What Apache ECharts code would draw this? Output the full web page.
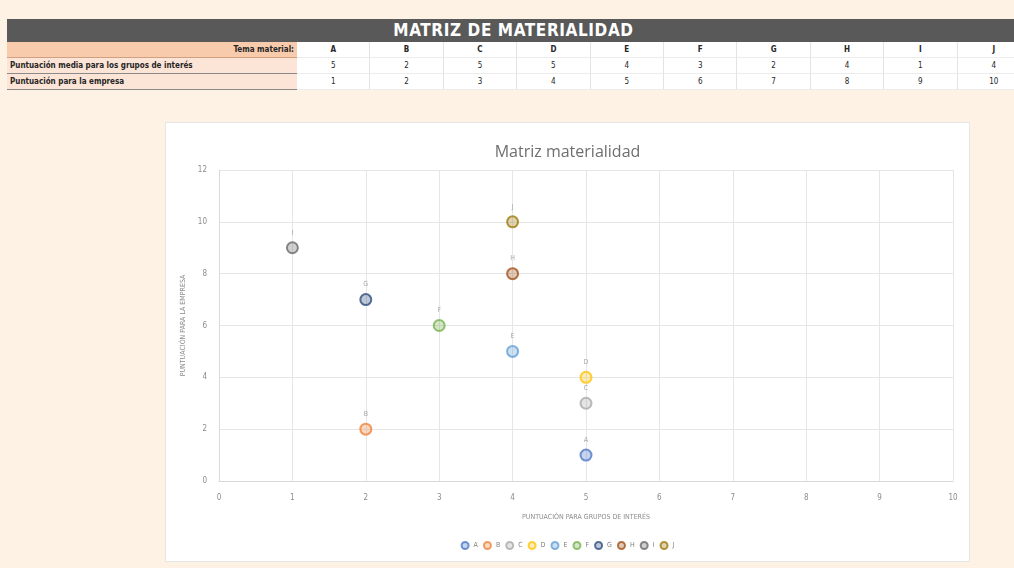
<!DOCTYPE html>
<html>
<head>
<meta charset="utf-8">
<script src="https://cdn.jsdelivr.net/npm/echarts@6/dist/echarts.min.js"></script>
<style>
  html, body { margin: 0; padding: 0; width: 1014px; height: 568px; background: #fdf2e4; overflow: hidden; }
  body { position: relative; font-family: "Liberation Sans Narrow", "DejaVu Sans Condensed", "Open Sans", sans-serif; }
  #banner { position: absolute; left: 7px; top: 19px; width: 1007px; height: 23px; background: #595959;
    color: #fff; font-weight: bold; font-size: 17px; line-height: 23px; text-align: center; letter-spacing: 0.6px; }
  #banner span { position: relative; left: 3px; }
  .cell { position: absolute; height: 16px; line-height: 16px; font-size: 8px; font-weight: bold; color: #262626; box-sizing: border-box; }
  .lab { left: 7px; width: 290px; background: #fce4d6; padding: 0 3px; border-bottom: 1px solid #8a8a8a; }
  .lab.head { background: #f8cbad; text-align: right; border-bottom: 1px solid #d0a080; }
  .val { text-align: center; width: 73.4px; background: #fff; border-right: 1px solid #e3e3e3; border-bottom: 1px solid #ececec; font-weight: normal; }
  .val.head { font-weight: bold; }
  #chartbox { position: absolute; left: 165px; top: 122px; width: 805px; height: 440px; background: #fff; border: 1px solid #e6e6e6; box-sizing: border-box; }
  #chart { position: absolute; left: 165px; top: 122px; width: 805px; height: 440px; }
</style>
</head>
<body>
<div id="banner"><span>MATRIZ DE MATERIALIDAD</span></div>
<div id="table"></div>
<div id="chartbox"></div>
<div id="chart"></div>
<script>
// ---- data ----
const categories = ['A', 'B', 'C', 'D', 'E', 'F', 'G', 'H', 'I', 'J'];
const groupScores = [5, 2, 5, 5, 4, 3, 2, 4, 1, 4];      // Puntuación media para los grupos de interés
const companyScores = [1, 2, 3, 4, 5, 6, 7, 8, 9, 10];   // Puntuación para la empresa
const rowLabels = ['Tema material', 'Puntuación media para los grupos de interés', 'Puntuación para la empresa'];
const chartTitle = 'Matriz materialidad';
const xAxisName = 'PUNTUACIÓN PARA GRUPOS DE INTERÉS';
const yAxisName = 'PUNTUACIÓN PARA LA EMPRESA';

// ---- styles ----
const palette = ['#4472c4', '#ed7d31', '#a5a5a5', '#ffc000', '#5b9bd5', '#70ad47', '#264478', '#9e480e', '#636363', '#997300'];

// ---- table ----
(function buildTable() {
  const t = document.getElementById('table');
  const rows = [categories, groupScores, companyScores];
  const tops = [42, 58, 74];
  rows.forEach((row, r) => {
    const lab = document.createElement('div');
    lab.className = 'cell lab' + (r === 0 ? ' head' : '');
    lab.style.top = tops[r] + 'px';
    lab.textContent = rowLabels[r] + (r === 0 ? ':' : '');
    t.appendChild(lab);
    row.forEach((v, i) => {
      const c = document.createElement('div');
      c.className = 'cell val' + (r === 0 ? ' head' : '');
      c.style.top = tops[r] + 'px';
      c.style.left = (297 + i * 73.4) + 'px';
      c.textContent = v;
      t.appendChild(c);
    });
  });
})();

// ---- chart ----
function hexA(hex, a) {
  const n = parseInt(hex.slice(1), 16);
  return 'rgba(' + (n >> 16 & 255) + ',' + (n >> 8 & 255) + ',' + (n & 255) + ',' + a + ')';
}
const chart = echarts.init(document.getElementById('chart'), null, { renderer: 'canvas' });
const font = '"Liberation Sans Narrow", "DejaVu Sans Condensed", "Open Sans", sans-serif';
const series = categories.map((name, i) => ({
  name: name,
  type: 'scatter',
  data: [[groupScores[i], companyScores[i]]],
  symbol: 'circle',
  symbolSize: 11,
  itemStyle: { color: hexA(palette[i], 0.4), borderColor: palette[i], borderWidth: 2, opacity: 0.75 },
  label: { show: true, position: 'top', distance: 5, formatter: '{a}', fontSize: 7, color: '#8c8c8c', fontFamily: font }
}));
chart.setOption({
  animation: false,
  backgroundColor: 'transparent',
  color: palette,
  textStyle: { fontFamily: font },
  title: {
    text: chartTitle, left: 'center', top: 17,
    textStyle: { fontSize: 16, fontWeight: 'normal', color: '#6e6e6e', fontFamily: '"Open Sans", sans-serif' }
  },
  legend: {
    bottom: 7, left: 'center', itemWidth: 7, itemHeight: 7, itemGap: 5, icon: 'circle',
    textStyle: { fontSize: 7, color: '#7f7f7f', fontFamily: font },
    data: categories
  },
  grid: { left: 54, top: 48, width: 734, height: 311 },
  xAxis: {
    type: 'value', min: 0, max: 10, interval: 1,
    name: xAxisName, nameLocation: 'middle', nameGap: 33,
    nameTextStyle: { fontSize: 7, color: '#8c8c8c' },
    axisLine: { show: true, lineStyle: { color: '#d9d9d9' } },
    axisTick: { show: false },
    axisLabel: { fontSize: 8, color: '#8c8c8c', margin: 13 },
    splitLine: { show: true, lineStyle: { color: '#e6e6e6' } }
  },
  yAxis: {
    type: 'value', min: 0, max: 12, interval: 2,
    name: yAxisName, nameLocation: 'middle', nameGap: 29,
    nameTextStyle: { fontSize: 7, color: '#8c8c8c' },
    axisLine: { show: true, lineStyle: { color: '#d9d9d9' } },
    axisTick: { show: false },
    axisLabel: { fontSize: 8, color: '#8c8c8c', margin: 12 },
    splitLine: { show: true, lineStyle: { color: '#e6e6e6' } }
  },
  series: series
});
</script>
</body>
</html>
